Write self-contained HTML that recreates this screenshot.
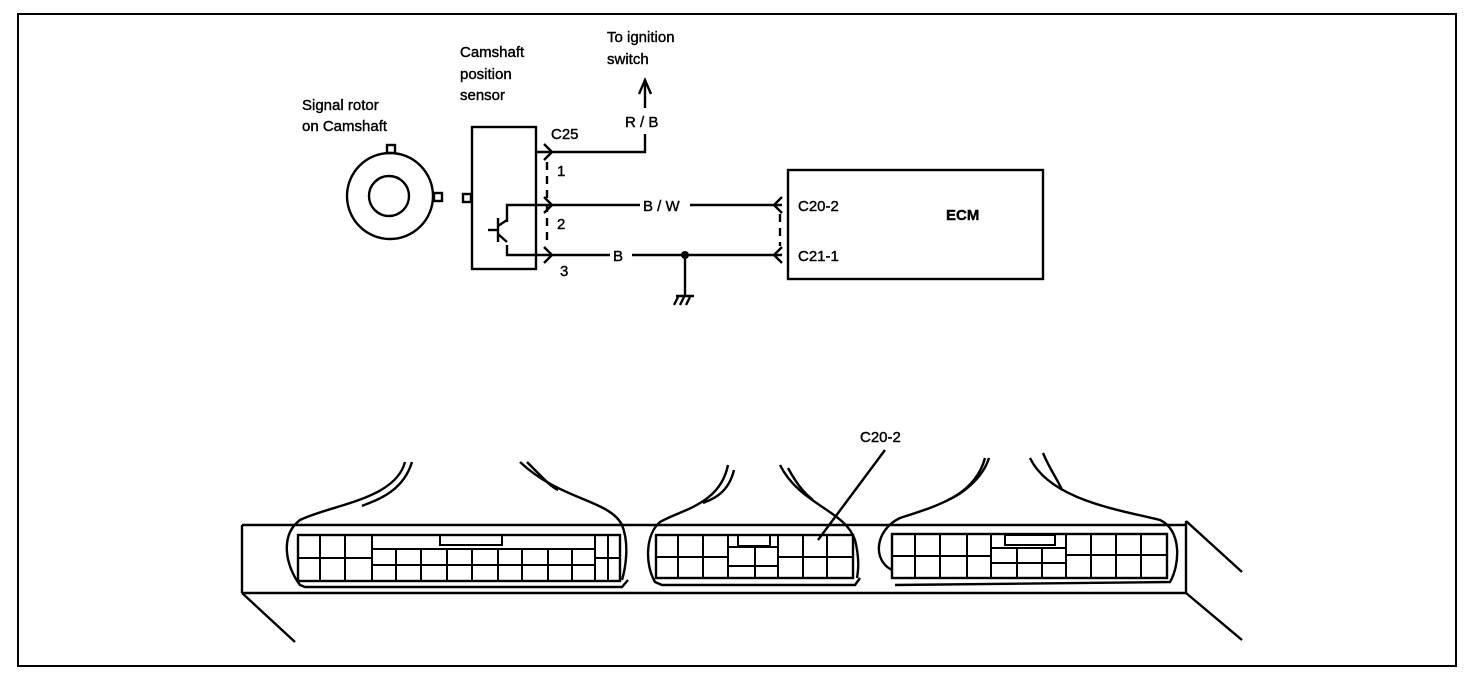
<!DOCTYPE html>
<html><head><meta charset="utf-8"><style>
html,body{margin:0;padding:0;background:#fff}
svg{display:block}
text{font-family:"Liberation Sans",sans-serif;fill:#000;stroke:#000;stroke-width:0.4}
</style></head><body>
<svg width="1472" height="678" viewBox="0 0 1472 678" xmlns="http://www.w3.org/2000/svg">
<g fill="none" stroke="#000" stroke-width="2.4">
<rect x="18" y="14" width="1438" height="652" stroke-width="2"/>
<circle cx="390" cy="196" r="43"/>
<circle cx="389" cy="196" r="20"/>
<rect x="387" y="145" width="8" height="8"/>
<rect x="434" y="193" width="8" height="8"/>
<rect x="472" y="127" width="64" height="142"/>
<rect x="463" y="194" width="8" height="8"/>
<polyline points="536,152 645,152 645,134"/>
<line x1="645" y1="108" x2="645" y2="82"/>
<polyline points="639,94 645,80 651,94"/>
<polyline points="507,222 507,205 640,205"/>
<line x1="690" y1="205" x2="782" y2="205"/>
<polyline points="507,245 507,255 610,255"/>
<line x1="632" y1="255" x2="782" y2="255"/>
<line x1="498" y1="218" x2="498" y2="242"/>
<line x1="488" y1="230" x2="498" y2="230"/>
<line x1="498" y1="226" x2="507" y2="220"/>
<line x1="498" y1="234" x2="507" y2="242"/>
<line x1="685" y1="255" x2="685" y2="295"/>
<line x1="676" y1="296" x2="694" y2="296"/>
<line x1="674" y1="305" x2="678" y2="297"/><line x1="680" y1="305" x2="684" y2="297"/><line x1="686" y1="305" x2="690" y2="297"/>
<polyline points="544,144 552,152 544,160"/>
<polyline points="544,197 552,205 544,213"/>
<polyline points="544,247 552,255 544,263"/>
<line x1="547" y1="162" x2="547" y2="246" stroke-dasharray="8,6"/>
<rect x="788" y="170" width="255" height="109"/>
<polyline points="782,197 774,205 782,213"/>
<polyline points="782,247 774,255 782,263"/>
<line x1="780" y1="214" x2="780" y2="246" stroke-dasharray="8,6"/>
<line x1="242" y1="525" x2="1186" y2="525"/>
<line x1="242" y1="593" x2="1186" y2="593"/>
<line x1="242" y1="525" x2="242" y2="593"/>
<line x1="1186" y1="521" x2="1186" y2="593"/>
<line x1="242" y1="593" x2="295" y2="642"/>
<line x1="1186" y1="521" x2="1242" y2="572"/>
<line x1="1186" y1="593" x2="1242" y2="640"/>
<path d="M405,462 C395,500 330,505 300,520 C280,535 285,565 300,585 L305,587 L622,587 L628,580"/>
<path d="M412,462 C402,495 370,502 362,506"/>
<path d="M520,462 C560,500 610,500 622,525 C630,545 625,570 622,580"/>
<path d="M527,462 C545,480 550,486 558,490"/>
<rect x="298" y="535" width="322" height="46" fill="#fff"/>
<g stroke-width="2">
<line x1="298" y1="558" x2="372" y2="558"/>
<line x1="595" y1="558" x2="620" y2="558"/>
<line x1="372" y1="549" x2="595" y2="549"/>
<line x1="372" y1="565" x2="595" y2="565"/>
<line x1="320" y1="535" x2="320" y2="581"/>
<line x1="345" y1="535" x2="345" y2="581"/>
<line x1="372" y1="535" x2="372" y2="581"/>
<line x1="595" y1="535" x2="595" y2="581"/>
<line x1="608" y1="535" x2="608" y2="581"/>
<line x1="396" y1="549" x2="396" y2="581"/><line x1="421" y1="549" x2="421" y2="581"/><line x1="447" y1="549" x2="447" y2="581"/><line x1="472" y1="549" x2="472" y2="581"/><line x1="498" y1="549" x2="498" y2="581"/><line x1="522" y1="549" x2="522" y2="581"/><line x1="548" y1="549" x2="548" y2="581"/><line x1="572" y1="549" x2="572" y2="581"/>
<rect x="440" y="535" width="62" height="10"/>
</g>
<path d="M728,465 C720,505 680,510 660,522 C645,535 645,565 655,582 L662,585 L855,585 L860,578"/>
<path d="M734,470 C728,495 710,500 703,503"/>
<path d="M780,465 C800,505 845,510 855,540 C860,560 858,572 857,578"/>
<path d="M788,468 C800,490 808,496 813,500"/>
<rect x="656" y="535" width="197" height="43" fill="#fff"/>
<g stroke-width="2">
<line x1="656" y1="557" x2="728" y2="557"/>
<line x1="778" y1="557" x2="853" y2="557"/>
<line x1="728" y1="547" x2="778" y2="547"/>
<line x1="728" y1="566" x2="778" y2="566"/>
<line x1="678" y1="535" x2="678" y2="578"/><line x1="703" y1="535" x2="703" y2="578"/><line x1="728" y1="535" x2="728" y2="578"/><line x1="755" y1="547" x2="755" y2="578"/><line x1="778" y1="535" x2="778" y2="578"/><line x1="803" y1="535" x2="803" y2="578"/><line x1="827" y1="535" x2="827" y2="578"/>
<rect x="738" y="535" width="32" height="11"/>
</g>
<line x1="885" y1="450" x2="818" y2="540"/>
<path d="M985,458 C975,495 940,505 900,518 C875,530 872,560 892,570"/>
<path d="M989,458 C982,480 960,495 948,500"/>
<path d="M1030,458 C1050,500 1120,510 1160,520 C1182,530 1180,565 1170,582 L895,585"/>
<path d="M1043,453 C1050,470 1058,480 1062,490"/>
<rect x="892" y="534" width="275" height="44" fill="#fff"/>
<g stroke-width="2">
<line x1="892" y1="556" x2="991" y2="556"/>
<line x1="1066" y1="555" x2="1167" y2="555"/>
<line x1="991" y1="548" x2="1066" y2="548"/>
<line x1="991" y1="563" x2="1066" y2="563"/>
<line x1="915" y1="534" x2="915" y2="578"/><line x1="940" y1="534" x2="940" y2="578"/><line x1="967" y1="534" x2="967" y2="578"/><line x1="991" y1="534" x2="991" y2="578"/><line x1="1017" y1="548" x2="1017" y2="578"/><line x1="1042" y1="548" x2="1042" y2="578"/><line x1="1066" y1="534" x2="1066" y2="578"/><line x1="1091" y1="534" x2="1091" y2="578"/><line x1="1116" y1="534" x2="1116" y2="578"/><line x1="1141" y1="534" x2="1141" y2="578"/>
<rect x="1005" y="535" width="50" height="10"/>
</g>
</g>
<circle cx="685" cy="255" r="4" fill="#000"/>
<g font-size="15">
<text x="302" y="110">Signal rotor</text>
<text x="302" y="131">on Camshaft</text>
<text x="460" y="57">Camshaft</text>
<text x="460" y="79">position</text>
<text x="460" y="100">sensor</text>
<text x="607" y="42">To ignition</text>
<text x="607" y="64">switch</text>
<text x="625" y="127">R / B</text>
<text x="551" y="139">C25</text>
<text x="557" y="176">1</text>
<text x="557" y="229">2</text>
<text x="560" y="276">3</text>
<text x="643" y="211">B / W</text>
<text x="613" y="261">B</text>
<text x="798" y="211">C20-2</text>
<text x="798" y="261">C21-1</text>
<text x="946" y="220" font-weight="bold">ECM</text>
<text x="860" y="442">C20-2</text>
</g>
</svg>
</body></html>
